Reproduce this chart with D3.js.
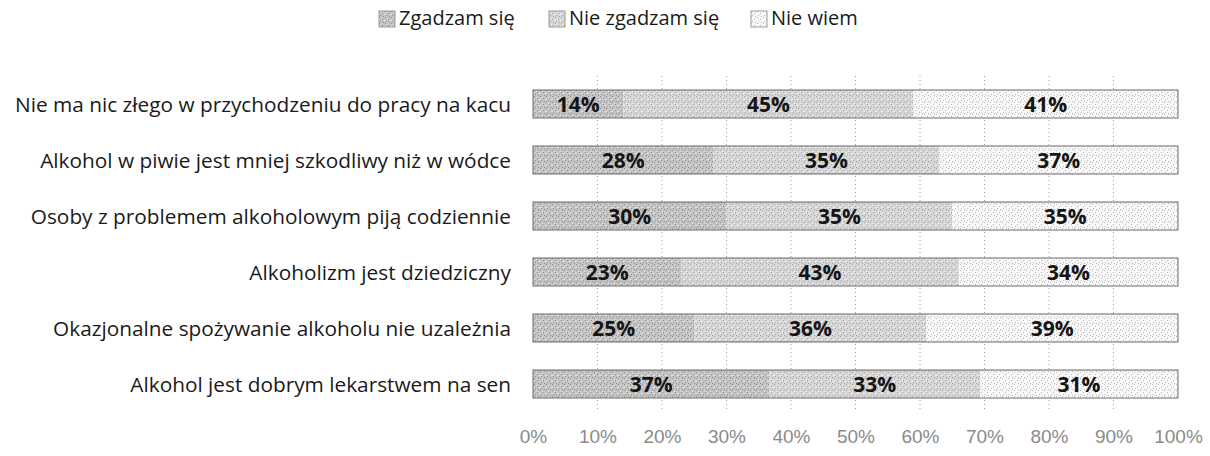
<!DOCTYPE html>
<html>
<head>
<meta charset="utf-8">
<script src="https://cdn.jsdelivr.net/npm/d3@7"></script>
<style>
  body { margin: 0; background: #fff; }
  text { font-family: "Open Sans", sans-serif; }
</style>
</head>
<body>
<div id="my_dataviz"></div>
<script>
// data
var categories = [
  "Nie ma nic złego w przychodzeniu do pracy na kacu",
  "Alkohol w piwie jest mniej szkodliwy niż w wódce",
  "Osoby z problemem alkoholowym piją codziennie",
  "Alkoholizm jest dziedziczny",
  "Okazjonalne spożywanie alkoholu nie uzależnia",
  "Alkohol jest dobrym lekarstwem na sen"
];
var seriesNames = ["Zgadzam się", "Nie zgadzam się", "Nie wiem"];
var zgadzam    = [14, 28, 30, 23, 25, 37];
var nieZgadzam = [45, 35, 35, 43, 36, 33];
var nieWiem    = [41, 37, 35, 34, 39, 31];
var tickValues = [0, 0.1, 0.2, 0.3, 0.4, 0.5, 0.6, 0.7, 0.8, 0.9, 1];

// table for d3.stack
var data = categories.map(function(c, i) {
  var row = { cat: c };
  row[seriesNames[0]] = zgadzam[i];
  row[seriesNames[1]] = nieZgadzam[i];
  row[seriesNames[2]] = nieWiem[i];
  return row;
});

var width = 1210, height = 456;

var svg = d3.select("#my_dataviz")
  .append("svg")
    .attr("width", width)
    .attr("height", height);

// grainy grey textures to imitate the scanned fills
var defs = svg.append("defs");
var textures = [
  { id: "tex0", base: "#c4c4c4", dot: "#8f8f8f", light: "#e2e2e2" },
  { id: "tex1", base: "#d6d6d6", dot: "#a6a6a6", light: "#efefef" },
  { id: "tex2", base: "#f7f7f7", dot: "#b8b8b8", light: "#ffffff" }
];
textures.forEach(function(t) {
  var p = defs.append("pattern")
    .attr("id", t.id)
    .attr("patternUnits", "userSpaceOnUse")
    .attr("width", 6).attr("height", 6);
  p.append("rect").attr("width", 6).attr("height", 6).attr("fill", t.base);
  [[0,0],[3,2],[1,4],[4,5]].forEach(function(d) {
    p.append("rect").attr("x", d[0]).attr("y", d[1]).attr("width", 1).attr("height", 1).attr("fill", t.dot);
  });
  [[2,1],[5,3],[0,3]].forEach(function(d) {
    p.append("rect").attr("x", d[0]).attr("y", d[1]).attr("width", 1).attr("height", 1).attr("fill", t.light);
  });
});

var x = d3.scaleLinear()
  .domain([0, 1])
  .range([533, 1178]);

var y = d3.scaleBand()
  .domain(categories)
  .range([76, 412])
  .paddingInner(0.5)
  .paddingOuter(0.25);

var color = d3.scaleOrdinal()
  .domain(seriesNames)
  .range(["url(#tex0)", "url(#tex1)", "url(#tex2)"]);

// dotted gridlines
svg.append("g")
  .selectAll("line")
  .data(tickValues.slice(1, -1))
  .enter()
  .append("line")
    .attr("x1", function(d) { return x(d); })
    .attr("x2", function(d) { return x(d); })
    .attr("y1", 76)
    .attr("y2", 412)
    .attr("stroke", "#9a9a9a")
    .attr("stroke-width", 1)
    .attr("stroke-dasharray", "1,3");

// 100% stacked bars
var stacked = d3.stack()
  .keys(seriesNames)
  .offset(d3.stackOffsetExpand)(data);

var groups = svg.append("g")
  .selectAll("g")
  .data(stacked)
  .enter()
  .append("g")
    .attr("fill", function(d) { return color(d.key); });

groups.selectAll("rect")
  .data(function(d) { return d; })
  .enter()
  .append("rect")
    .attr("x", function(d) { return x(d[0]); })
    .attr("y", function(d) { return y(d.data.cat); })
    .attr("width", function(d) { return x(d[1]) - x(d[0]); })
    .attr("height", y.bandwidth());

// thin outline round each bar
svg.append("g")
  .selectAll("rect")
  .data(categories)
  .enter()
  .append("rect")
    .attr("x", x(0))
    .attr("y", function(d) { return y(d); })
    .attr("width", x(1) - x(0))
    .attr("height", y.bandwidth())
    .attr("fill", "none")
    .attr("stroke", "#6a6a6a")
    .attr("stroke-width", 1);

// value labels
stacked.forEach(function(s, si) {
  svg.append("g")
    .selectAll("text")
    .data(s)
    .enter()
    .append("text")
      .attr("x", function(d) { return (x(d[0]) + x(d[1])) / 2; })
      .attr("y", function(d) { return y(d.data.cat) + y.bandwidth() / 2; })
      .attr("dy", "0.36em")
      .attr("text-anchor", "middle")
      .style("font-size", "21px")
      .style("font-weight", "bold")
      .style("fill", "#151515")
      .text(function(d) { return d.data[s.key] + "%"; });
});

// category labels
svg.append("g")
  .selectAll("text")
  .data(categories)
  .enter()
  .append("text")
    .attr("x", 511)
    .attr("y", function(d) { return y(d) + y.bandwidth() / 2; })
    .attr("dy", "0.38em")
    .attr("text-anchor", "end")
    .style("font-size", "20.8px")
    .style("fill", "#1a1a1a")
    .text(function(d) { return d; });

// x axis
var xAxis = svg.append("g")
  .attr("transform", "translate(0,424)")
  .call(d3.axisBottom(x).tickValues(tickValues).tickFormat(d3.format(".0%")).tickSize(0).tickPadding(6));
xAxis.select(".domain").remove();
xAxis.selectAll("text")
  .style("font-family", "'Liberation Sans', sans-serif")
  .style("font-size", "19px")
  .style("fill", "#8a8a8a");

// legend
var legendX = [379, 549, 751];
var legend = svg.append("g")
  .selectAll("g")
  .data(seriesNames)
  .enter()
  .append("g")
    .attr("transform", function(d, i) { return "translate(" + legendX[i] + ",11)"; });
legend.append("rect")
  .attr("width", 16)
  .attr("height", 16)
  .attr("fill", function(d) { return color(d); })
  .attr("stroke", "#9a9a9a")
  .attr("stroke-width", 1);
legend.append("text")
  .attr("x", 20)
  .attr("y", 7)
  .attr("dy", "0.36em")
  .style("font-size", "20px")
  .style("fill", "#1a1a1a")
  .text(function(d) { return d; });
</script>
</body>
</html>
